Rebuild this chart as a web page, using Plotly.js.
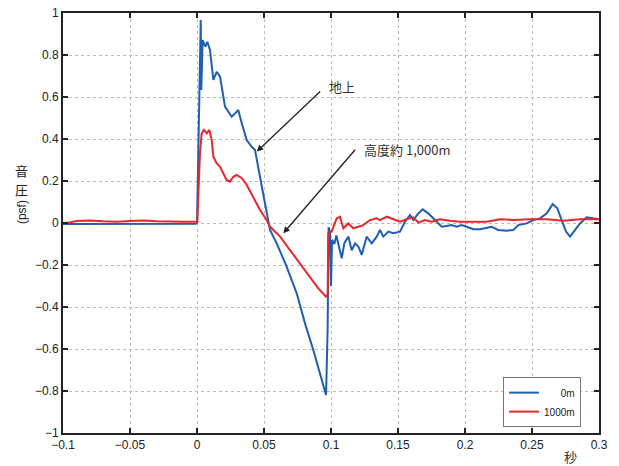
<!DOCTYPE html>
<html>
<head>
<meta charset="utf-8">
<script src="https://cdn.plot.ly/plotly-3.0.1.min.js"></script>
<style>html,body{margin:0;padding:0;background:#fff;}#chart{width:619px;height:466px;}</style>
</head>
<body>
<div id="chart"></div>
<script>
// Series names
const seriesNames = ["\u2007\u2007\u20070m", "1000m"];

// 0m (ground) series
const tGround = [-0.1, -0.07, -0.05, -0.03, -0.001, 0, 0.0015, 0.0028, 0.0032, 0.0042, 0.0062, 0.0077, 0.0097, 0.0122, 0.0147, 0.0172, 0.0209, 0.0259, 0.0284, 0.0308, 0.0334, 0.0371, 0.0408, 0.0433, 0.047, 0.052, 0.0545, 0.0595, 0.0669, 0.0744, 0.0806, 0.0868, 0.0918, 0.0963, 0.0975, 0.0982, 0.0992, 0.1, 0.1008, 0.1025, 0.104, 0.106, 0.108, 0.11, 0.113, 0.1154, 0.118, 0.1205, 0.1229, 0.1266, 0.1304, 0.1341, 0.1366, 0.139, 0.1428, 0.1465, 0.1515, 0.1552, 0.159, 0.1614, 0.1652, 0.1684, 0.1726, 0.1776, 0.1826, 0.1863, 0.19, 0.1938, 0.1975, 0.2012, 0.2062, 0.2112, 0.2162, 0.2199, 0.2248, 0.2311, 0.236, 0.2398, 0.246, 0.251, 0.256, 0.261, 0.2654, 0.2689, 0.2721, 0.2754, 0.2784, 0.2821, 0.2858, 0.2908, 0.2958, 0.3];
const vGround = [-0.005, -0.004, -0.005, -0.004, -0.004, 0, 0.6, 0.967, 0.633, 0.871, 0.84, 0.863, 0.824, 0.681, 0.72, 0.697, 0.554, 0.506, 0.522, 0.538, 0.475, 0.395, 0.363, 0.348, 0.22, 0.046, -0.033, -0.097, -0.208, -0.335, -0.478, -0.605, -0.716, -0.819, -0.5, -0.02, -0.04, -0.3, -0.08, -0.1, -0.06, -0.12, -0.168, -0.095, -0.065, -0.13, -0.097, -0.113, -0.152, -0.065, -0.097, -0.065, -0.033, -0.065, -0.041, -0.049, -0.041, 0.006, 0.038, 0.014, 0.046, 0.065, 0.046, 0.014, -0.018, -0.014, -0.01, -0.018, -0.01, -0.018, -0.03, -0.03, -0.025, -0.018, -0.033, -0.037, -0.033, -0.01, -0.002, 0.014, 0.022, 0.046, 0.09, 0.07, 0.014, -0.041, -0.065, -0.033, -0.002, 0.027, 0.022, 0.018];

// 1000m series
const tHigh = [-0.1, -0.095, -0.09, -0.08, -0.07, -0.06, -0.05, -0.04, -0.03, -0.02, -0.01, -0.001, 0.0002, 0.0022, 0.0035, 0.0052, 0.0072, 0.0092, 0.011, 0.0122, 0.0147, 0.0172, 0.0196, 0.0221, 0.0246, 0.0271, 0.0296, 0.0334, 0.0371, 0.042, 0.047, 0.052, 0.0545, 0.057, 0.062, 0.0694, 0.0769, 0.0843, 0.0905, 0.0963, 0.0975, 0.098, 0.1005, 0.1042, 0.1067, 0.1092, 0.1129, 0.1167, 0.1205, 0.1241, 0.1291, 0.1341, 0.1366, 0.1416, 0.1465, 0.1515, 0.1565, 0.1614, 0.1652, 0.1701, 0.1751, 0.1813, 0.1888, 0.1963, 0.2062, 0.2162, 0.2261, 0.236, 0.2485, 0.261, 0.2734, 0.2858, 0.3];
const vHigh = [0, 0.002, 0.01, 0.012, 0.008, 0.006, 0.01, 0.012, 0.008, 0.006, 0.006, 0.006, 0, 0.332, 0.427, 0.443, 0.427, 0.443, 0.395, 0.316, 0.284, 0.268, 0.237, 0.205, 0.197, 0.22, 0.229, 0.213, 0.181, 0.125, 0.062, 0.014, -0.018, -0.033, -0.065, -0.129, -0.192, -0.256, -0.311, -0.351, -0.34, -0.049, -0.041, 0.022, 0.03, -0.025, -0.002, -0.025, -0.018, -0.01, 0.014, 0.022, 0.014, 0.03, 0.018, 0.006, 0.018, 0.027, 0.002, 0.014, 0.006, 0.018, 0.011, 0.006, 0.006, 0.006, 0.018, 0.014, 0.018, 0.018, 0.011, 0.018, 0.018];

// Ticks
const xTicks = [-0.1, -0.05, 0, 0.05, 0.1, 0.15, 0.2, 0.25, 0.3];
const yTicks = [-1, -0.8, -0.6, -0.4, -0.2, 0, 0.2, 0.4, 0.6, 0.8, 1];

// Labels
const labelGround = "地上";
const labelHigh = "高度約 1,000m";
const xLabel = "秒";
const yLabelChars = ["音", "圧"];
const yLabelUnit = "(psf)";

const cjk = "'Noto Sans CJK JP', sans-serif";
const latin = "'Liberation Sans', Arial, sans-serif";

const traces = [
  {x: tGround, y: vGround, name: seriesNames[0], type: "scatter", mode: "lines",
   line: {color: "#1f5fb0", width: 2}},
  {x: tHigh, y: vHigh, name: seriesNames[1], type: "scatter", mode: "lines",
   line: {color: "#e8262b", width: 2}}
];

const axisCommon = {
  showline: true, linecolor: "#222", linewidth: 2, mirror: "ticks",
  ticks: "inside", ticklen: 5, tickcolor: "#222", tickwidth: 1.5,
  showgrid: true, gridcolor: "#bbb", griddash: "dot", gridwidth: 1,
  zeroline: false, tickfont: {family: latin, size: 12, color: "#222"}
};

const layout = {
  width: 619, height: 466,
  margin: {l: 63, r: 20, t: 13, b: 33},
  paper_bgcolor: "#fff", plot_bgcolor: "#fff",
  showlegend: true,
  legend: {x: 0.821, y: 0.014, xanchor: "left", yanchor: "bottom",
    bgcolor: "#fff", bordercolor: "#777", borderwidth: 1, itemwidth: 30,
    entrywidth: 58, entrywidthmode: "pixels",
    font: {family: latin, size: 10, color: "#222"}, tracegroupgap: 0},
  xaxis: Object.assign({}, axisCommon, {range: [-0.1, 0.3], tickvals: xTicks, ticktext: xTicks.map(v => (v < 0 ? "\u2212" : "") + Math.abs(v))}),
  yaxis: Object.assign({}, axisCommon, {range: [-1, 1], tickvals: yTicks, ticktext: yTicks.map(v => (v < 0 ? "\u2212" : "") + Math.abs(v))}),
  annotations: [
    {x: 0.0446, y: 0.34, ax: 0.093, ay: 0.633, xref: "x", yref: "y", axref: "x", ayref: "y",
     showarrow: true, arrowhead: 2, arrowsize: 1, arrowwidth: 1.3, arrowcolor: "#222", text: ""},
    {x: 0.097, y: 0.648, xref: "x", yref: "y", text: labelGround, showarrow: false,
     xanchor: "left", yanchor: "middle", font: {family: cjk, size: 13, color: "#333"}},
    {x: 0.0644, y: -0.049, ax: 0.119, ay: 0.356, xref: "x", yref: "y", axref: "x", ayref: "y",
     showarrow: true, arrowhead: 2, arrowsize: 1, arrowwidth: 1.3, arrowcolor: "#222", text: ""},
    {x: 0.1235, y: 0.352, xref: "x", yref: "y", text: labelHigh, showarrow: false,
     xanchor: "left", yanchor: "middle", font: {family: cjk, size: 13, color: "#333"}},
    {x: 0.946, y: -0.057, xref: "paper", yref: "paper", text: xLabel, showarrow: false,
     xanchor: "center", yanchor: "middle", font: {family: cjk, size: 13, color: "#333"}},
    {x: -0.0765, y: 0.626, xref: "paper", yref: "paper", text: yLabelChars[0], showarrow: false,
     xanchor: "center", yanchor: "middle", font: {family: cjk, size: 13, color: "#222"}},
    {x: -0.0765, y: 0.579, xref: "paper", yref: "paper", text: yLabelChars[1], showarrow: false,
     xanchor: "center", yanchor: "middle", font: {family: cjk, size: 13, color: "#222"}},
    {x: -0.0765, y: 0.526, xref: "paper", yref: "paper", text: yLabelUnit, showarrow: false,
     xanchor: "center", yanchor: "middle", textangle: -90, font: {family: latin, size: 12, color: "#222"}}
  ]
};

Plotly.newPlot("chart", traces, layout, {staticPlot: true, displayModeBar: false});
</script>
</body>
</html>
